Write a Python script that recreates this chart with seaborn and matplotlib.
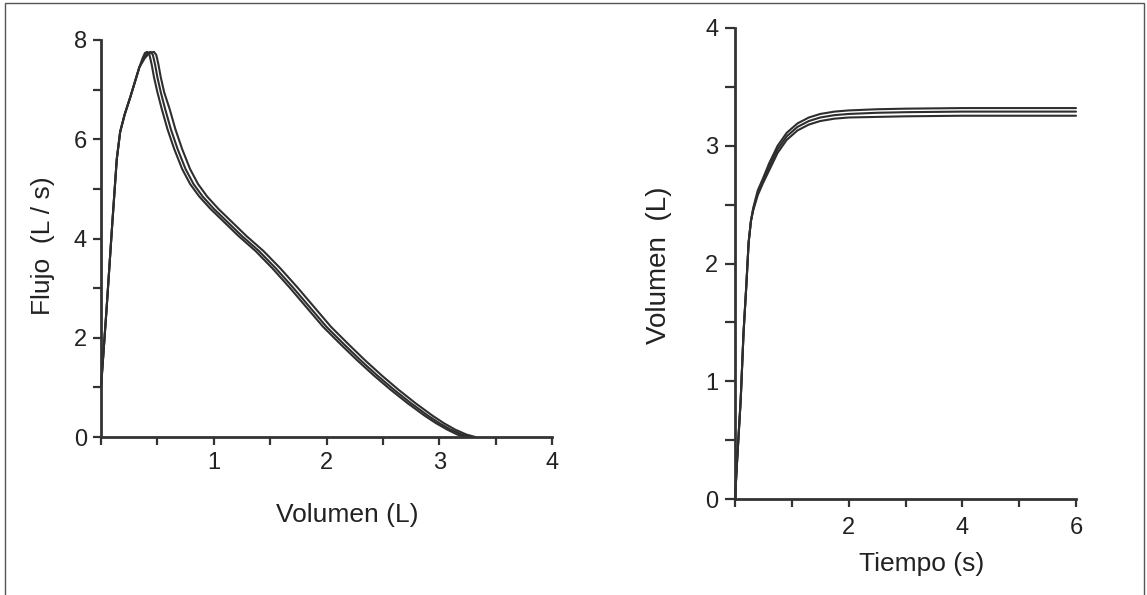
import matplotlib
matplotlib.use("Agg")
import matplotlib.pyplot as plt
from matplotlib.patches import Rectangle
import seaborn as sns
import pandas as pd

# ---- Data: flow-volume curves (three manoeuvres) ----
fv_flow = [1.0, 2.6, 4.3, 5.6, 6.15, 6.5, 6.85, 7.15, 7.45, 7.64, 7.74, 7.76, 7.7, 7.5,
           7.25, 6.95, 6.6, 6.2, 5.8, 5.4, 5.1, 4.85, 4.6, 4.38, 4.05, 3.75, 3.4, 3.02,
           2.62, 2.22, 1.88, 1.55, 1.24, 0.95, 0.68, 0.43, 0.28, 0.15, 0.05, 0.0]
fv_vol_a = [0.00, 0.05, 0.10, 0.14, 0.17, 0.21, 0.26, 0.30, 0.34, 0.37, 0.39, 0.41, 0.43, 0.45,
            0.47, 0.50, 0.54, 0.59, 0.65, 0.72, 0.79, 0.87, 0.97, 1.07, 1.22, 1.37, 1.52, 1.67,
            1.82, 1.97, 2.12, 2.27, 2.42, 2.57, 2.72, 2.87, 2.97, 3.07, 3.16, 3.23]
fv_vol_b = [0.00, 0.05, 0.10, 0.14, 0.17, 0.21, 0.26, 0.30, 0.34, 0.38, 0.41, 0.44, 0.46, 0.48,
            0.50, 0.53, 0.57, 0.62, 0.68, 0.75, 0.82, 0.90, 1.00, 1.10, 1.25, 1.40, 1.55, 1.70,
            1.85, 2.00, 2.15, 2.30, 2.45, 2.60, 2.75, 2.90, 3.00, 3.10, 3.20, 3.27]
fv_vol_c = [0.00, 0.05, 0.10, 0.14, 0.17, 0.21, 0.26, 0.30, 0.34, 0.39, 0.43, 0.47, 0.49, 0.51,
            0.53, 0.56, 0.61, 0.66, 0.72, 0.79, 0.86, 0.94, 1.04, 1.14, 1.29, 1.44, 1.59, 1.74,
            1.89, 2.04, 2.19, 2.34, 2.49, 2.64, 2.79, 2.94, 3.04, 3.14, 3.24, 3.32]

# ---- Data: volume-time curves ----
vt_time = [0, 0.04, 0.10, 0.15, 0.20, 0.24, 0.28, 0.32, 0.40, 0.49, 0.60, 0.75, 0.91, 1.10,
           1.30, 1.50, 1.75, 2.00, 2.50, 3.00, 4.00, 5.00, 6.00]
vt_vol_a = [0, 0.35, 0.84, 1.41, 1.82, 2.18, 2.36, 2.47, 2.62, 2.72, 2.85, 3.00, 3.11, 3.19,
            3.24, 3.27, 3.29, 3.30, 3.31, 3.315, 3.32, 3.32, 3.32]
vt_vol_b = [0, 0.35, 0.84, 1.41, 1.82, 2.18, 2.36, 2.46, 2.60, 2.70, 2.82, 2.97, 3.08, 3.16,
            3.21, 3.24, 3.26, 3.27, 3.28, 3.285, 3.29, 3.29, 3.29]
vt_vol_c = [0, 0.35, 0.84, 1.41, 1.82, 2.18, 2.36, 2.45, 2.58, 2.68, 2.79, 2.94, 3.05, 3.13,
            3.18, 3.21, 3.23, 3.24, 3.245, 3.25, 3.255, 3.255, 3.255]

# ---- Tick labels ----
fv_xticks = [0, 0.5, 1, 1.5, 2, 2.5, 3, 3.5, 4]
fv_xlabels = ["", "", "1", "", "2", "", "3", "", "4"]
fv_yticks = [0, 1, 2, 3, 4, 5, 6, 7, 8]
fv_ylabels = ["0", "", "2", "", "4", "", "6", "", "8"]
vt_xticks = [0, 1, 2, 3, 4, 5, 6]
vt_xlabels = ["", "", "2", "", "4", "", "6"]
vt_yticks = [0, 0.5, 1, 1.5, 2, 2.5, 3, 3.5, 4]
vt_ylabels = ["0", "", "1", "", "2", "", "3", "", "4"]

fv = pd.concat([
    pd.DataFrame({"vol": v, "flow": fv_flow, "ensayo": k})
    for k, v in (("A", fv_vol_a), ("B", fv_vol_b), ("C", fv_vol_c))
])
vt = pd.concat([
    pd.DataFrame({"t": vt_time, "vol": v, "ensayo": k})
    for k, v in (("A", vt_vol_a), ("B", vt_vol_b), ("C", vt_vol_c))
])

sns.set_theme(style="ticks")
plt.rcParams["font.family"] = ["Liberation Sans", "DejaVu Sans"]

INK = "#2e2e2e"
fig = plt.figure(figsize=(11.47, 5.95), dpi=100)
fig.patch.set_facecolor("white")

ax1 = fig.add_axes([101 / 1147, 1 - 437 / 595, 451 / 1147, 397 / 595])
ax2 = fig.add_axes([735 / 1147, 1 - 499 / 595, 341 / 1147, 471 / 595])

sns.lineplot(data=fv, x="vol", y="flow", hue="ensayo", palette=[INK] * 3,
             sort=False, estimator=None, legend=False, linewidth=1.5, ax=ax1)
sns.lineplot(data=vt, x="t", y="vol", hue="ensayo", palette=[INK] * 3,
             sort=False, estimator=None, legend=False, linewidth=1.5, ax=ax2)

for ax in (ax1, ax2):
    ax.set_facecolor("white")
    sns.despine(ax=ax)
    for s in ("left", "bottom"):
        ax.spines[s].set_linewidth(2.0)
        ax.spines[s].set_color("#333333")
    ax.tick_params(direction="out", length=6, width=1.6, color="#333333",
                   labelsize=17, labelcolor="#222222")
    ax.tick_params(axis="y", pad=4)
    ax.tick_params(axis="x", pad=5)
    for ln in ax.lines:
        ln.set_clip_on(False)
        ln.set_solid_joinstyle("round")

ax1.set_xlim(0, 4)
ax1.set_ylim(0, 8)
ax1.set_xticks(fv_xticks, fv_xlabels)
ax1.set_yticks(fv_yticks, fv_ylabels)
ax1.set_xlabel("Volumen (L)", fontsize=19, color="#222222")
ax1.set_ylabel("Flujo  (L / s)", fontsize=19, color="#222222")
ax1.xaxis.set_label_coords(0.545, -0.166)
ax1.yaxis.set_label_coords(-0.102, 0.481)

ax2.set_xlim(0, 6)
ax2.set_ylim(0, 4)
ax2.set_xticks(vt_xticks, vt_xlabels)
ax2.set_yticks(vt_yticks, vt_ylabels)
ax2.tick_params(axis="y", length=7, pad=5)
ax2.tick_params(axis="x", pad=7)
ax2.set_xlabel("Tiempo (s)", fontsize=19, color="#222222")
ax2.set_ylabel("Volumen  (L)", fontsize=20, color="#222222")
ax2.xaxis.set_label_coords(0.547, -0.1125)
ax2.yaxis.set_label_coords(-0.185, 0.497)

# thin frame around the figure (left, top, right visible)
fig.add_artist(Rectangle((5 / 1147, -0.02), (1144 - 5) / 1147, 1.02 - 3 / 595,
                         transform=fig.transFigure, fill=False,
                         edgecolor="#555555", linewidth=1.0))

fig.savefig("out.png", dpi=100, facecolor="white")
